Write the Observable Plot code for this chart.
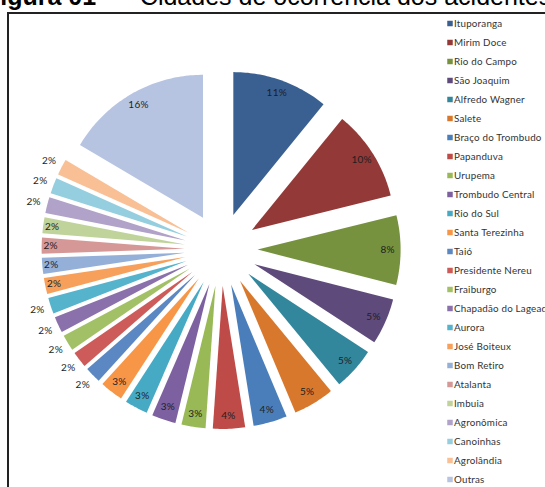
<!DOCTYPE html>
<html>
<head>
<meta charset="utf-8">
<script src="https://cdn.jsdelivr.net/npm/d3@7"></script>
<script src="https://cdn.jsdelivr.net/npm/@observablehq/plot@0.6"></script>
<style>
  html, body { margin: 0; padding: 0; background: #fff; }
  #wrap { position: relative; width: 545px; height: 487px; overflow: hidden; background: #fff; }
  #title { position: absolute; top: -16px; left: 0; white-space: nowrap; font-family: Arial, "Liberation Sans", sans-serif; font-size: 25px; line-height: 25px; color: #000; }
  #title b { position: absolute; left: -15px; top: 0; }
  #title span { position: absolute; left: 119px; top: 0; }
  #frame { position: absolute; left: 7px; top: 12px; width: 560px; height: 473px; border-top: 2px solid #222; border-left: 2px solid #222; }
  #pie { position: absolute; left: 0; top: 0; }
  #legend { position: absolute; left: 444px; top: 0; width: 101px; }
  #pie svg, #legend svg { max-width: none !important; }
  #pie text { letter-spacing: 0.3px; }
  #legend text { letter-spacing: 0.2px; }
</style>
</head>
<body>
<div id="wrap">
  <div id="frame"></div>
  <div id="pie"></div>
  <div id="legend"></div>
  <div id="title"><b>Figura 01</b><span>– Cidades de ocorrência dos acidentes</span></div>
</div>
<script>
const names = ["Ituporanga","Mirim Doce","Rio do Campo","São Joaquim","Alfredo Wagner","Salete","Braço do Trombudo","Papanduva","Urupema","Trombudo Central","Rio do Sul","Santa Terezinha","Taió","Presidente Nereu","Fraiburgo","Chapadão do Lageado","Aurora","José Boiteux","Bom Retiro","Atalanta","Imbuia","Agronômica","Canoinhas","Agrolândia","Outras"];
const values = [10.8, 10.2, 7.8, 5.2, 4.8, 4.6, 3.8, 3.6, 2.7, 2.7, 2.6, 2.6, 1.8, 1.8, 1.8, 1.8, 1.8, 1.8, 1.8, 1.8, 1.8, 1.8, 1.8, 1.8, 16.4];
const colors = ["#3a6091","#933a38","#76923f","#5f4a7c","#32879c","#d8782c","#4a7ebb","#be4b48","#98b955","#7d60a0","#46aac5","#f79646","#5b87c2","#cc5b59","#a2c066","#8a71ab","#56b3cc","#f7a05c","#95b0d8","#d69896","#bfd39a","#b0a2c8","#95cfdf","#f9bf95","#b7c4e1"];
const outsideLabels = ["Taió","Presidente Nereu","Fraiburgo","Chapadão do Lageado","Aurora","Agronômica","Canoinhas","Agrolândia"];

// layout (pixels)
const W = 545, H = 487;
const cx = 220.6, cy = 249, R = 143, explode = 36.5;

const arcs = d3.pie().sort(null).value(d => d)(values);
const rows = [];
const labels = [];
arcs.forEach((a, i) => {
  const mid = (a.startAngle + a.endAngle) / 2;
  const ox = explode / R * Math.sin(mid), oy = explode / R * Math.cos(mid);
  const name = names[i];
  rows.push({name, x: ox, y: oy});
  const steps = Math.max(4, Math.ceil((a.endAngle - a.startAngle) / (Math.PI / 180)));
  for (let k = 0; k <= steps; k++) {
    const t = a.startAngle + (a.endAngle - a.startAngle) * k / steps;
    rows.push({name, x: ox + Math.sin(t), y: oy + Math.cos(t)});
  }
  const out = outsideLabels.includes(name);
  const inset = values[i] < 2.5 ? 9 : 13;
  const lr = out ? (R + 14) / R : (R - inset) / R;
  labels.push({name, x: ox + lr * Math.sin(mid), y: oy + lr * Math.cos(mid), text: Math.round(values[i]) + "%"});
});

const pie = Plot.plot({
  width: W, height: H, margin: 0,
  x: {domain: [-cx / R, (W - cx) / R], range: [0, W], axis: null},
  y: {domain: [-(H - cy) / R, cy / R], range: [H, 0], axis: null},
  color: {domain: names, range: colors},
  style: {background: "transparent", overflow: "visible"},
  marks: [
    Plot.line(rows, {x: "x", y: "y", z: "name", fill: "name", stroke: "none", curve: "linear-closed"}),
    Plot.text(labels, {x: "x", y: "y", text: "text", fill: "#1e1e1e", fontSize: 10, fontFamily: "Lato, 'Open Sans', sans-serif"})
  ]
});
document.getElementById("pie").appendChild(pie);

const legend = Plot.plot({
  width: 101, height: H, margin: 0,
  y: {type: "point", domain: names, range: [23, 479], padding: 0, axis: null},
  x: {axis: null},
  color: {domain: names, range: colors},
  style: {background: "transparent", overflow: "visible"},
  marks: [
    Plot.dot(names, {y: d => d, frameAnchor: "left", dx: 5.5, symbol: "square", r: 3.1, fill: d => d, stroke: "none"}),
    Plot.text(names, {y: d => d, frameAnchor: "left", dx: 9.5, text: d => d, textAnchor: "start", fill: "#333", fontSize: 9.8, fontFamily: "Lato, 'Open Sans', sans-serif"})
  ]
});
document.getElementById("legend").appendChild(legend);
</script>
</body>
</html>
